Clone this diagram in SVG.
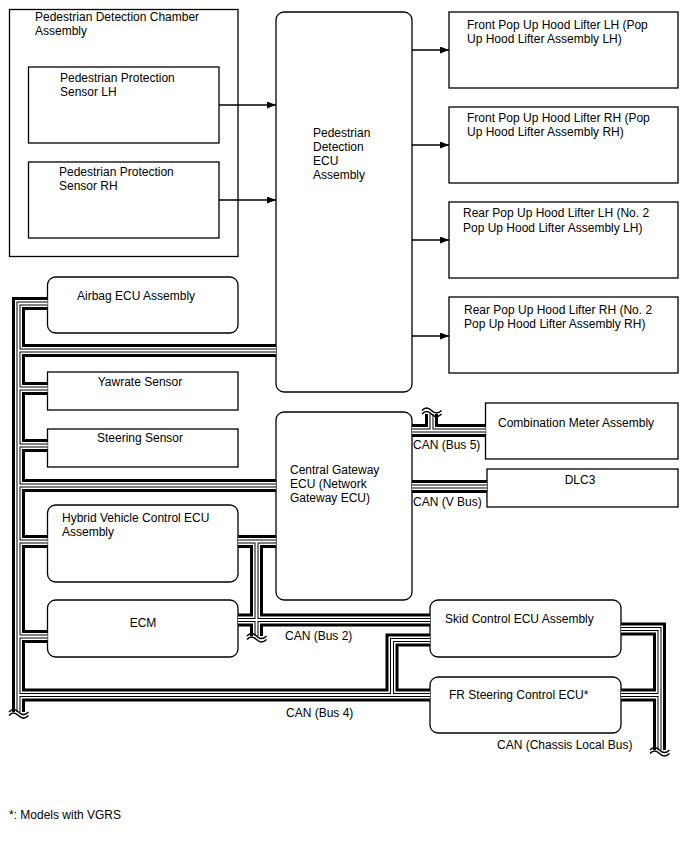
<svg xmlns="http://www.w3.org/2000/svg" xmlns:xlink="http://www.w3.org/1999/xlink" width="688" height="852" viewBox="0 0 688 852">
<style>
  text { font-family: "Liberation Sans", Arial, sans-serif; font-size: 12px; fill: #000; }
  .box { fill: #fff; stroke: #000; stroke-width: 1.3; }
  .frame { fill: none; stroke: #000; stroke-width: 1.3; }
  .arrow { fill: none; stroke: #000; stroke-width: 1.4; marker-end: url(#ah); }
  .l1 { fill: none; stroke: #000; stroke-width: 13; stroke-linejoin: miter; }
  .l2 { fill: none; stroke: #fff; stroke-width: 7; stroke-linejoin: miter; }
  .l3 { fill: none; stroke: #000; stroke-width: 4; stroke-linejoin: miter; }
  .l4 { fill: none; stroke: #fff; stroke-width: 2; stroke-linejoin: miter; }
  .wave { fill: none; stroke: #000; stroke-width: 1.5; }
  .ctr { text-anchor: middle; }
</style>
<defs>
  <marker id="ah" markerUnits="userSpaceOnUse" markerWidth="9" markerHeight="7" refX="9" refY="3.5" orient="auto">
    <path d="M0,0 L9,3.5 L0,7 z" fill="#000"/>
  </marker>
  <path id="bus" d="M47.5,303.5 H18.5 V712 M18.5,350.5 H276 M18.5,388.5 H47.5 M18.5,445.5 H47.5 M18.5,485.5 H276 M18.5,541.5 H47.5 M238,541.5 H276 M256.5,541.5 V636 M18.5,636.5 H47.5 M238,620 H430 M18.5,695 H430 M392,695 V640 H430 M621,629 H659.5 V750 M621,695 H659.5 M412,430.5 H485.5 M431.5,430.5 V414 M412,486.5 H487"/>
</defs>

<g id="chamber">
  <rect class="frame" x="9.5" y="9.5" width="228.5" height="247"/>
  <text x="35" y="21">Pedestrian Detection Chamber</text>
  <text x="35" y="35">Assembly</text>
</g>
<g id="sensor-lh">
  <rect class="box" x="28.5" y="67" width="190.5" height="76"/>
  <text x="60" y="82">Pedestrian Protection</text>
  <text x="60" y="96">Sensor LH</text>
</g>
<g id="sensor-rh">
  <rect class="box" x="28.5" y="162" width="190.5" height="76"/>
  <text x="59" y="176">Pedestrian Protection</text>
  <text x="59" y="190">Sensor RH</text>
</g>
<g id="ped-ecu">
  <rect class="box" x="276" y="12" width="136" height="380" rx="8"/>
  <text x="313" y="137">Pedestrian</text>
  <text x="313" y="151">Detection</text>
  <text x="313" y="165">ECU</text>
  <text x="313" y="179">Assembly</text>
</g>
<g id="lifter-front-lh">
  <rect class="box" x="449" y="12" width="229" height="76"/>
  <text x="467" y="29">Front Pop Up Hood Lifter LH (Pop</text>
  <text x="467" y="43">Up Hood Lifter Assembly LH)</text>
</g>
<g id="lifter-front-rh">
  <rect class="box" x="449" y="107" width="229" height="76"/>
  <text x="467" y="122">Front Pop Up Hood Lifter RH (Pop</text>
  <text x="467" y="136">Up Hood Lifter Assembly RH)</text>
</g>
<g id="lifter-rear-lh">
  <rect class="box" x="449" y="202" width="229" height="76"/>
  <text x="463" y="217">Rear Pop Up Hood Lifter LH (No. 2</text>
  <text x="463" y="232">Pop Up Hood Lifter Assembly LH)</text>
</g>
<g id="lifter-rear-rh">
  <rect class="box" x="449" y="297" width="229" height="76"/>
  <text x="464" y="314">Rear Pop Up Hood Lifter RH (No. 2</text>
  <text x="464" y="328">Pop Up Hood Lifter Assembly RH)</text>
</g>
<g id="airbag">
  <rect class="box" x="47.5" y="277" width="190.5" height="56" rx="8"/>
  <text x="77" y="300">Airbag ECU Assembly</text>
</g>
<g id="yawrate">
  <rect class="box" x="47.5" y="372" width="190.5" height="38"/>
  <text class="ctr" x="140" y="386">Yawrate Sensor</text>
</g>
<g id="steering">
  <rect class="box" x="47.5" y="429" width="190.5" height="38"/>
  <text class="ctr" x="140" y="442">Steering Sensor</text>
</g>
<g id="gateway">
  <rect class="box" x="276" y="412" width="136" height="188" rx="8"/>
  <text x="290" y="474">Central Gateway</text>
  <text x="290" y="488">ECU (Network</text>
  <text x="290" y="502">Gateway ECU)</text>
</g>
<g id="combination-meter">
  <rect class="box" x="485.5" y="403" width="192.5" height="56"/>
  <text x="498" y="427">Combination Meter Assembly</text>
</g>
<g id="dlc3">
  <rect class="box" x="487" y="469" width="191" height="38"/>
  <text class="ctr" x="580" y="484">DLC3</text>
</g>
<g id="hybrid">
  <rect class="box" x="47.5" y="505" width="190.5" height="77" rx="8"/>
  <text x="62" y="522">Hybrid Vehicle Control ECU</text>
  <text x="62" y="536">Assembly</text>
</g>
<g id="ecm">
  <rect class="box" x="47.5" y="600" width="190.5" height="57" rx="8"/>
  <text class="ctr" x="143" y="627">ECM</text>
</g>
<g id="skid">
  <rect class="box" x="430" y="600" width="191" height="57" rx="8"/>
  <text x="445" y="623">Skid Control ECU Assembly</text>
</g>
<g id="fr-steering">
  <rect class="box" x="430" y="677" width="191" height="56" rx="8"/>
  <text x="449" y="699">FR Steering Control ECU*</text>
</g>

<g id="connectors">
  <path class="arrow" d="M219,105 H276"/>
  <path class="arrow" d="M219,200 H276"/>
  <path class="arrow" d="M412,50 H449"/>
  <path class="arrow" d="M412,145 H449"/>
  <path class="arrow" d="M412,240 H449"/>
  <path class="arrow" d="M412,336 H449"/>
  <use xlink:href="#bus" class="l1"/>
  <use xlink:href="#bus" class="l2"/>
  <use xlink:href="#bus" class="l3"/>
  <use xlink:href="#bus" class="l4"/>
  <path class="wave" d="M9,712 c3,-3.5 6,-3.5 9.5,0 s6.5,3.5 10,0 M9,715.5 c3,-3.5 6,-3.5 9.5,0 s6.5,3.5 10,0"/>
  <path class="wave" d="M422,414 c3,-3.5 6,-3.5 9.5,0 s6.5,3.5 10,0 M422,410.5 c3,-3.5 6,-3.5 9.5,0 s6.5,3.5 10,0"/>
  <path class="wave" d="M247,636 c3,-3.5 6,-3.5 9.5,0 s6.5,3.5 10,0 M247,639.5 c3,-3.5 6,-3.5 9.5,0 s6.5,3.5 10,0"/>
  <path class="wave" d="M650,750 c3,-3.5 6,-3.5 9.5,0 s6.5,3.5 10,0 M650,753.5 c3,-3.5 6,-3.5 9.5,0 s6.5,3.5 10,0"/>
  <text x="413" y="449">CAN (Bus 5)</text>
  <text x="413" y="506">CAN (V Bus)</text>
  <text x="285" y="640">CAN (Bus 2)</text>
  <text x="286" y="717">CAN (Bus 4)</text>
  <text x="497" y="749">CAN (Chassis Local Bus)</text>
</g>

<g id="note">
  <text x="9" y="819">*: Models with VGRS</text>
</g>
</svg>
